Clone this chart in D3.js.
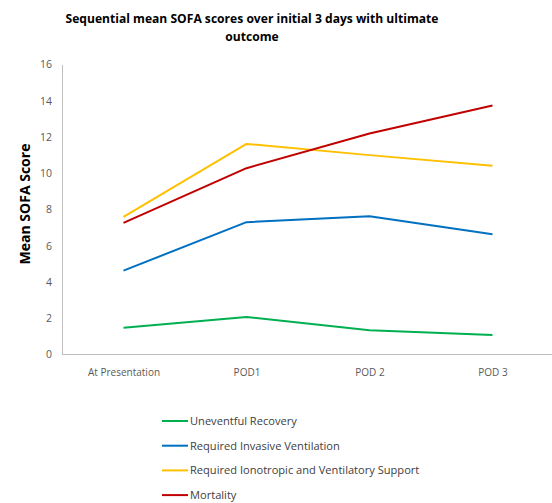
<!DOCTYPE html>
<html><head><meta charset="utf-8">
<script src="https://cdn.jsdelivr.net/npm/d3@7"></script>
<style>body{margin:0;background:#fff}svg{display:block}</style>
</head><body>
<svg id="c" width="552" height="503"></svg>
<script>
const categories = ["At Presentation", "POD1", "POD 2", "POD 3"];
const seriesNames = ["Uneventful Recovery", "Required Invasive Ventilation", "Required Ionotropic and Ventilatory Support", "Mortality"];
const uneventful = [1.47, 2.07, 1.34, 1.08];
const invasive = [4.63, 7.30, 7.63, 6.64];
const ionotropic = [7.59, 11.62, 11.0, 10.41];
const mortality = [7.26, 10.28, 12.19, 13.74];
const yTicks = [0, 2, 4, 6, 8, 10, 12, 14, 16];
const colors = ["#00B050", "#0070C0", "#FFC000", "#C00000"];

const series = [uneventful, invasive, ionotropic, mortality];
const svg = d3.select("#c");
const font = "'Open Sans', 'Liberation Sans', sans-serif";

const x = d3.scalePoint().domain(categories).range([62, 554]).padding(0.5);
const y = d3.scaleLinear().domain([0, 16]).range([354.5, 64.5]);

// title
const title = svg.append("text").attr("text-anchor", "middle").attr("font-family", font)
  .attr("font-weight", "bold").attr("font-size", 12.1).attr("fill", "#000");
title.append("tspan").attr("x", 252).attr("y", 23).text("Sequential mean SOFA scores over initial 3 days with ultimate");
title.append("tspan").attr("x", 252).attr("y", 41).text("outcome");

// y axis
const yAxis = svg.append("g").attr("transform", "translate(62,0)")
  .call(d3.axisLeft(y).tickValues(yTicks).tickSize(0).tickPadding(10));
yAxis.select(".domain").attr("stroke", "#bfbfbf");
yAxis.selectAll("text").attr("font-family", font).attr("font-size", 10.5).attr("fill", "#595959");

// x axis
const xAxis = svg.append("g").attr("transform", "translate(0,354.5)")
  .call(d3.axisBottom(x).tickSize(0).tickPadding(14));
xAxis.select(".domain").attr("stroke", "#bfbfbf").attr("d", "M62,0H552");
xAxis.selectAll("text").attr("font-family", font).attr("font-size", 10).attr("fill", "#595959");

// y title
svg.append("text").attr("transform", "translate(30,204) rotate(-90)")
  .attr("text-anchor", "middle").attr("font-family", font).attr("font-weight", "bold")
  .attr("font-size", 14).attr("fill", "#000").text("Mean SOFA Score");

// lines
const line = d3.line().x((d, i) => x(categories[i])).y(d => y(d));
series.forEach((s, k) => {
  svg.append("path").datum(s).attr("d", line).attr("fill", "none")
    .attr("stroke", colors[k]).attr("stroke-width", 2).attr("stroke-linejoin", "round");
});

// legend
const leg = svg.append("g");
seriesNames.forEach((n, k) => {
  const yy = 421 + k * 24.7;
  leg.append("line").attr("x1", 162).attr("x2", 188).attr("y1", yy).attr("y2", yy)
    .attr("stroke", colors[k]).attr("stroke-width", 2);
  leg.append("text").attr("x", 190).attr("y", yy).attr("dy", "0.35em")
    .attr("font-family", font).attr("font-size", 11.1).attr("fill", "#404040").text(n);
});
</script>
</body></html>
